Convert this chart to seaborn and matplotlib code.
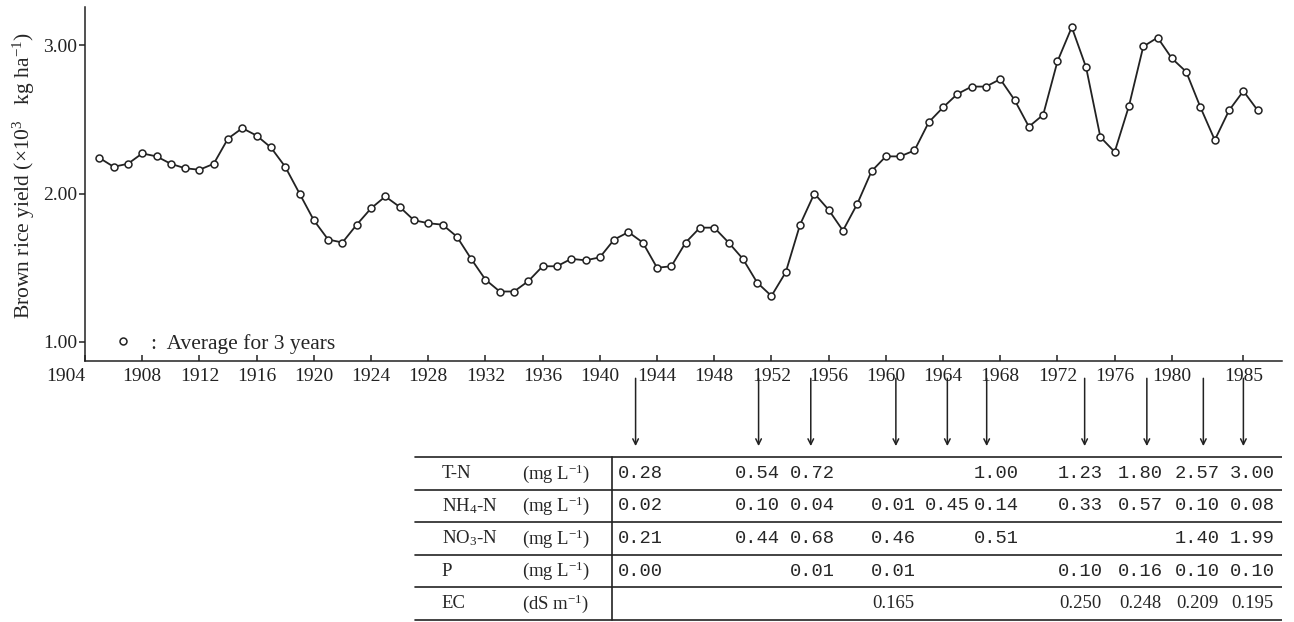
import pandas as pd
import seaborn as sns
import matplotlib.pyplot as plt
from matplotlib.lines import Line2D

# 3-year average brown rice yield (x10^3 kg/ha)
years = list(range(1905, 1987))
yields = [
    2.24, 2.18, 2.20, 2.27, 2.25, 2.20, 2.17, 2.16, 2.20, 2.37,   # 1905-1914
    2.44, 2.39, 2.31, 2.18, 2.00, 1.82, 1.69, 1.67, 1.79, 1.90,   # 1915-1924
    1.98, 1.91, 1.82, 1.80, 1.79, 1.71, 1.56, 1.42, 1.34, 1.34,   # 1925-1934
    1.41, 1.51, 1.51, 1.56, 1.55, 1.57, 1.69, 1.74, 1.67, 1.50,   # 1935-1944
    1.51, 1.67, 1.77, 1.77, 1.67, 1.56, 1.40, 1.31, 1.47, 1.79,   # 1945-1954
    2.00, 1.89, 1.75, 1.93, 2.15, 2.25, 2.25, 2.29, 2.48, 2.58,   # 1955-1964
    2.67, 2.72, 2.72, 2.77, 2.63, 2.45, 2.53, 2.89, 3.12, 2.85,   # 1965-1974
    2.38, 2.28, 2.59, 2.99, 3.05, 2.91, 2.82, 2.58, 2.36, 2.56,   # 1975-1984
    2.69, 2.56,                                                   # 1985-1986
]

tick_years = [1904, 1908, 1912, 1916, 1920, 1924, 1928, 1932, 1936, 1940,
              1944, 1948, 1952, 1956, 1960, 1964, 1968, 1972, 1976, 1980, 1985]
ytick_vals = [1.0, 2.0, 3.0]
ytick_labels = ['1.00', '2.00', '3.00']

# water quality table (sampling years where the arrows point)
sample_years = [1942.5, 1951.1, 1954.75, 1960.7, 1964.3, 1967.05, 1973.9, 1978.25, 1982.2, 1985.0]
row_names = ['T-N', 'NH$_4$-N', 'NO$_3$-N', 'P', 'EC']
row_units = ['(mg L$^{-1}$)', '(mg L$^{-1}$)', '(mg L$^{-1}$)', '(mg L$^{-1}$)', '(dS m$^{-1}$)']
tn = ['0.28', '0.54', '0.72', '', '', '1.00', '1.23', '1.80', '2.57', '3.00']
nh4 = ['0.02', '0.10', '0.04', '0.01', '0.45', '0.14', '0.33', '0.57', '0.10', '0.08']
no3 = ['0.21', '0.44', '0.68', '0.46', '', '0.51', '', '', '1.40', '1.99']
phos = ['0.00', '', '0.01', '0.01', '', '', '0.10', '0.16', '0.10', '0.10']
ec = ['', '', '', '0.165', '', '', '0.250', '0.248', '0.209', '0.195']

sns.set_style('ticks')
plt.rcParams['font.family'] = ['Liberation Serif', 'DejaVu Serif']
plt.rcParams['mathtext.fontset'] = 'custom'
plt.rcParams['mathtext.rm'] = 'Liberation Serif'
plt.rcParams['mathtext.it'] = 'Liberation Serif:italic'
plt.rcParams['axes.edgecolor'] = '#222222'
plt.rcParams['xtick.color'] = '#222222'
plt.rcParams['ytick.color'] = '#222222'

W, H = 1294, 622
fig = plt.figure(figsize=(W / 100, H / 100), dpi=100)


def px_rect(l, t, r, b):
    return [l / W, 1 - b / H, (r - l) / W, (b - t) / H]


ax = fig.add_axes(px_rect(85, 7, 1282, 361))
ax_t = fig.add_axes(px_rect(85, 370, 1282, 621), sharex=ax)

df = pd.DataFrame({'year': years, 'yield': yields})
sns.lineplot(data=df, x='year', y='yield', ax=ax, color='#222222', lw=1.3,
             marker='o', markersize=5, markerfacecolor='white',
             markeredgecolor='#222222', markeredgewidth=1.1)

ax.set_xlim(1904, 1987.7)
ax.set_ylim(0.872, 3.256)
ax.set_xticks(tick_years)
ax.set_xticklabels([str(y) for y in tick_years])
ax.set_yticks(ytick_vals)
ax.set_yticklabels(ytick_labels)
sns.despine(ax=ax)
for s in ['left', 'bottom']:
    ax.spines[s].set_linewidth(1.1)
ax.tick_params(axis='x', direction='in', length=4, width=1.1, pad=5, labelsize=14)
ax.tick_params(axis='y', direction='out', length=4, width=1.1, pad=1.5, labelsize=14)
ax.get_xticklabels()[0].set_horizontalalignment('right')
ax.set_xlabel('')
ax.set_ylabel('Brown rice yield (×10$^3$   kg ha$^{-1}$)', fontsize=15.5)
ax.yaxis.set_label_coords(-0.040, 0.525)

key = Line2D([], [], ls='', marker='o', ms=5, mfc='white', mec='#222222', mew=1.1)
ax.legend([key], [':  Average for 3 years'], loc='lower left',
          bbox_to_anchor=(0.0228, 0.02), frameon=False, fontsize=15.5,
          handlelength=1, handletextpad=0.8, borderpad=0, borderaxespad=0)

# table below the chart
ax_t.set_ylim(5.03, -2.67)
ax_t.axis('off')
tr = ax_t.get_yaxis_transform()
for r in range(6):
    ax_t.plot([0.2757, 1.0], [r, r], transform=tr, color='#222222', lw=1.2)
ax_t.plot([0.44, 0.44], [0, 5], transform=tr, color='#222222', lw=1.2)

# values sit slightly off their arrow in the printed table
col_nudge = [0.3, -0.1, 0.1, -0.2, 0.0, 0.65, -0.3, -0.45, -0.4, 0.6]

rows = [tn, nh4, no3, phos, ec]
for r, (name, unit, vals) in enumerate(zip(row_names, row_units, rows)):
    ax_t.text(0.298, r + 0.5, name, transform=tr, va='center', fontsize=13.5)
    ax_t.text(0.365, r + 0.5, unit, transform=tr, va='center', fontsize=13.5)
    for yr, dx, v in zip(sample_years, col_nudge, vals):
        if not v:
            continue
        if name == 'EC':
            ax_t.text(yr + dx, r + 0.5, v, ha='center', va='center', fontsize=13.5)
        else:
            ax_t.text(yr + dx, r + 0.5, v, ha='center', va='center',
                      family='Liberation Mono', fontsize=13.5)

for yr in sample_years:
    ax_t.annotate('', xy=(yr, -0.25), xytext=(yr, -2.5),
                  arrowprops=dict(arrowstyle='->', color='#222222', lw=1.1))

fig.savefig('out.png', dpi=100)
